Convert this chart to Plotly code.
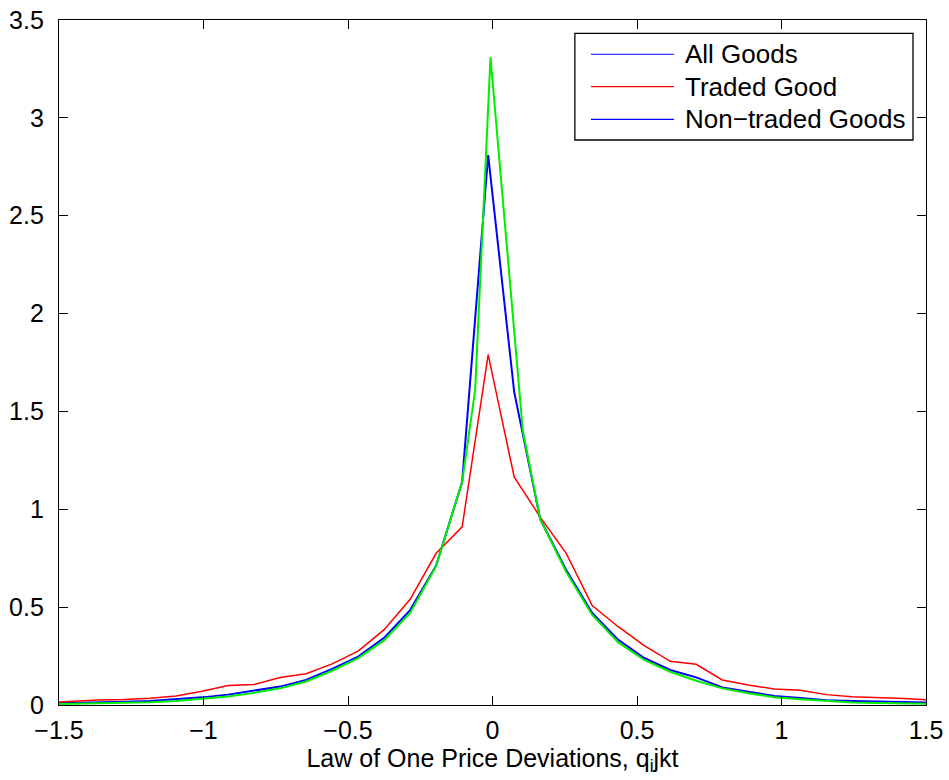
import plotly.graph_objects as go

# bin centres
x_grid = [-1.545, -1.455, -1.365, -1.275, -1.185, -1.095, -1.005, -0.915, -0.825,
          -0.735, -0.645, -0.555, -0.465, -0.375, -0.285, -0.195, -0.105, -0.015,
          0.075, 0.165, 0.255, 0.345, 0.435, 0.525, 0.615, 0.705, 0.795, 0.885,
          0.975, 1.065, 1.155, 1.245, 1.335, 1.425, 1.515]

all_goods = [0.008, 0.010, 0.013, 0.016, 0.020, 0.029, 0.039, 0.053, 0.072,
             0.094, 0.128, 0.184, 0.247, 0.343, 0.485, 0.713, 1.14, 2.81,
             1.60, 0.95, 0.69, 0.47, 0.333, 0.240, 0.179, 0.141, 0.090, 0.068,
             0.046, 0.036, 0.024, 0.020, 0.017, 0.014, 0.012]

traded = [0.012, 0.018, 0.026, 0.028, 0.034, 0.046, 0.070, 0.100, 0.105,
          0.140, 0.160, 0.210, 0.275, 0.385, 0.540, 0.775, 0.910, 1.79,
          1.165, 0.96, 0.775, 0.508, 0.400, 0.303, 0.223, 0.208, 0.128, 0.102,
          0.082, 0.075, 0.053, 0.042, 0.039, 0.033, 0.026]

x_nontraded = [-1.545, -1.455, -1.365, -1.275, -1.185, -1.095, -1.005, -0.915, -0.825,
               -0.735, -0.645, -0.555, -0.465, -0.375, -0.285, -0.195, -0.105, -0.06,
               -0.007, 0.105, 0.165, 0.255, 0.345, 0.435, 0.525, 0.615, 0.705, 0.795,
               0.885, 0.975, 1.065, 1.155, 1.245, 1.335, 1.425, 1.515]
nontraded = [0.004, 0.006, 0.008, 0.010, 0.014, 0.020, 0.030, 0.043, 0.062,
             0.085, 0.120, 0.175, 0.240, 0.330, 0.470, 0.710, 1.14, 1.61,
             3.31, 1.40, 0.95, 0.68, 0.46, 0.32, 0.23, 0.17, 0.124, 0.085,
             0.060, 0.040, 0.030, 0.020, 0.013, 0.010, 0.008, 0.006]

series_names = ["All Goods", "Traded Good", "Non\u2212traded Goods"]
legend_colors = ["#0000FF", "#FF0000", "#0000FF"]

x_ticks = [-1.5, -1, -0.5, 0, 0.5, 1, 1.5]
y_ticks = [0, 0.5, 1, 1.5, 2, 2.5, 3, 3.5]
x_title = "Law of One Price Deviations, q<sub>i</sub>jkt"

FONT = "Liberation Sans, Arial, sans-serif"

fig = go.Figure()
fig.add_trace(go.Scatter(x=x_grid, y=all_goods, mode="lines", name=series_names[0],
                         line=dict(color="#0000FF", width=2), showlegend=False))
fig.add_trace(go.Scatter(x=x_grid, y=traded, mode="lines", name=series_names[1],
                         line=dict(color="#FF0000", width=1.5), showlegend=False))
fig.add_trace(go.Scatter(x=x_nontraded, y=nontraded, mode="lines", name=series_names[2],
                         line=dict(color="#00EE00", width=2), showlegend=False))

# manual MATLAB-style legend (paper coordinates)
lx0, lx1, ly0, ly1 = 0.595, 0.985, 0.8248, 0.9806
shapes = [dict(type="rect", xref="paper", yref="paper", x0=lx0, x1=lx1, y0=ly0, y1=ly1,
               line=dict(color="black", width=1.3), fillcolor="white", layer="above")]
annotations = []
row_y = [0.950, 0.9026, 0.855]
for name, col, yy in zip(series_names, legend_colors, row_y):
    shapes.append(dict(type="line", xref="paper", yref="paper", x0=0.6136, x1=0.7093,
                       y0=yy, y1=yy, line=dict(color=col, width=1.2), layer="above"))
    annotations.append(dict(xref="paper", yref="paper", x=0.7195, y=yy, text=name,
                            showarrow=False, xanchor="left", yanchor="middle",
                            font=dict(family=FONT, size=26, color="black")))

fig.update_layout(
    width=949, height=780,
    margin=dict(l=59, r=23, t=20, b=75, autoexpand=False),
    paper_bgcolor="white", plot_bgcolor="white",
    font=dict(family=FONT, size=26, color="black"),
    showlegend=False,
    shapes=shapes, annotations=annotations,
)
fig.update_xaxes(range=[-1.5, 1.5], tickvals=x_ticks, showgrid=False, zeroline=False,
                 showline=True, linecolor="black", linewidth=1.3, mirror="ticks",
                 ticks="inside", ticklen=9, tickcolor="black", tickwidth=1,
                 ticklabelstandoff=3, automargin=False,
                 title=dict(text=x_title, standoff=0, font=dict(size=25)),
                 tickfont=dict(size=25))
fig.update_yaxes(range=[0, 3.5], tickvals=y_ticks, showgrid=False, zeroline=False,
                 showline=True, linecolor="black", linewidth=1.3, mirror="ticks",
                 ticks="inside", ticklen=9, tickcolor="black", tickwidth=1,
                 ticklabelstandoff=9, automargin=False, tickfont=dict(size=25))

fig.write_html("out.html")
